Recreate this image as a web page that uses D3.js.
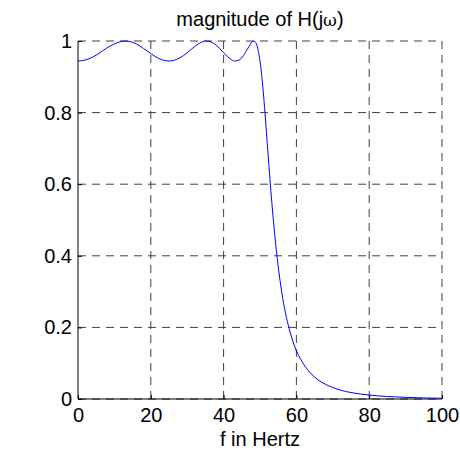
<!DOCTYPE html>
<html>
<head>
<meta charset="utf-8">
<script src="https://d3js.org/d3.v7.min.js"></script>
<style>
	html, body { margin: 0; padding: 0; background: #fff; }
	svg { display: block; font-family: "Liberation Sans", Arial, sans-serif; }
</style>
</head>
<body>
<div id="chart"></div>
<script>
// Values (frequency in Hz, |H(jw)|)
const freqHz = [0, 2, 4, 6, 8, 10, 12, 13, 14, 16, 18, 20, 22, 24, 25, 26, 28, 30, 32, 34, 35,
	36, 38, 40, 41, 42, 43, 44, 45, 46, 47, 48, 48.5, 49, 49.5, 50, 50.5, 51, 51.5, 52, 52.5, 53,
	54, 55, 56, 57, 58, 59, 60, 62, 64, 66, 68, 70, 72, 75, 80, 85, 90, 95, 100];
const magnitude = [0.944, 0.947, 0.955, 0.967, 0.981, 0.992, 0.999, 1.000, 0.999, 0.992, 0.979,
	0.965, 0.952, 0.945, 0.944, 0.945, 0.953, 0.967, 0.984, 0.997, 1.000,
	0.999, 0.988, 0.967, 0.957, 0.949, 0.944, 0.946, 0.953, 0.968, 0.985, 0.999, 0.999, 0.992, 0.974,
	0.944, 0.901, 0.846, 0.782, 0.714, 0.646, 0.580,
	0.464, 0.370, 0.297, 0.240, 0.197, 0.162, 0.135, 0.097, 0.071, 0.053, 0.041, 0.032, 0.025,
	0.018, 0.011, 0.007, 0.0045, 0.003, 0.002];
const xTicks = [0, 20, 40, 60, 80, 100];
const yTicks = [0, 0.2, 0.4, 0.6, 0.8, 1];

const width = 460, height = 453;
const margin = { top: 41, right: 18, bottom: 54, left: 78 };
const fontSize = '20px';

const svg = d3.select('#chart').append('svg')
	.attr('width', width)
	.attr('height', height);

const x = d3.scaleLinear().domain([0, 100]).range([margin.left, width - margin.right]);
const y = d3.scaleLinear().domain([0, 1]).range([height - margin.bottom, margin.top]);

// Dashed grid
const grid = svg.append('g')
	.attr('stroke', '#000')
	.attr('stroke-width', 1)
	.attr('stroke-dasharray', '8,6')
	.attr('opacity', 0.75);

grid.selectAll('line.v')
	.data(xTicks.filter(d => d > 0))
.join('line')
	.attr('class', 'v')
	.attr('x1', d => x(d)).attr('x2', d => x(d))
	.attr('y1', y(0)).attr('y2', y(1));

grid.selectAll('line.h')
	.data(yTicks)
.join('line')
	.attr('class', 'h')
	.attr('x1', x(0)).attr('x2', x(100))
	.attr('y1', d => y(d)).attr('y2', d => y(d));

// Axes (left and bottom only, ticks pointing inward)
const xAxis = svg.append('g')
	.attr('transform', 'translate(0,' + y(0) + ')')
	.call(d3.axisBottom(x).tickValues(xTicks).tickSize(-4).tickPadding(9).tickFormat(d3.format('d')));

const yAxis = svg.append('g')
	.attr('transform', 'translate(' + x(0) + ',0)')
	.call(d3.axisLeft(y).tickValues(yTicks).tickSize(-4).tickPadding(6).tickFormat(d => d === 0 || d === 1 ? d3.format('d')(d) : d3.format('.1f')(d)));

[xAxis, yAxis].forEach(axis => {
	axis.select('.domain').attr('stroke', '#000').attr('stroke-width', 1);
	axis.selectAll('.tick line').attr('stroke', '#000');
	axis.selectAll('.tick text')
		.attr('fill', '#000')
		.style('font-family', '"Liberation Sans", Arial, sans-serif')
		.style('font-size', fontSize);
});
xAxis.select('.domain').attr('d', 'M' + x(0) + ',0H' + x(100));
yAxis.select('.domain').attr('d', 'M0,' + y(0) + 'V' + y(1));

// The response curve
const line = d3.line()
	.x((d, i) => x(freqHz[i]))
	.y(d => y(d))
	.curve(d3.curveMonotoneX);

svg.append('path')
	.datum(magnitude)
	.attr('fill', 'none')
	.attr('stroke', '#0000ff')
	.attr('stroke-width', 1)
	.attr('d', line);

// Title and axis label
const title = svg.append('text')
	.attr('x', (x(0) + x(100)) / 2)
	.attr('y', 26)
	.attr('text-anchor', 'middle')
	.style('font-size', fontSize)
	.attr('fill', '#000');
title.append('tspan').text('magnitude of H(j');
title.append('tspan').style('font-family', '"DejaVu Serif", serif').style('font-size', '17px').text('ω');
title.append('tspan').text(')');

svg.append('text')
	.attr('x', (x(0) + x(100)) / 2)
	.attr('y', 446)
	.attr('text-anchor', 'middle')
	.style('font-size', fontSize)
	.attr('fill', '#000')
	.text('f in Hertz');
</script>
</body>
</html>
